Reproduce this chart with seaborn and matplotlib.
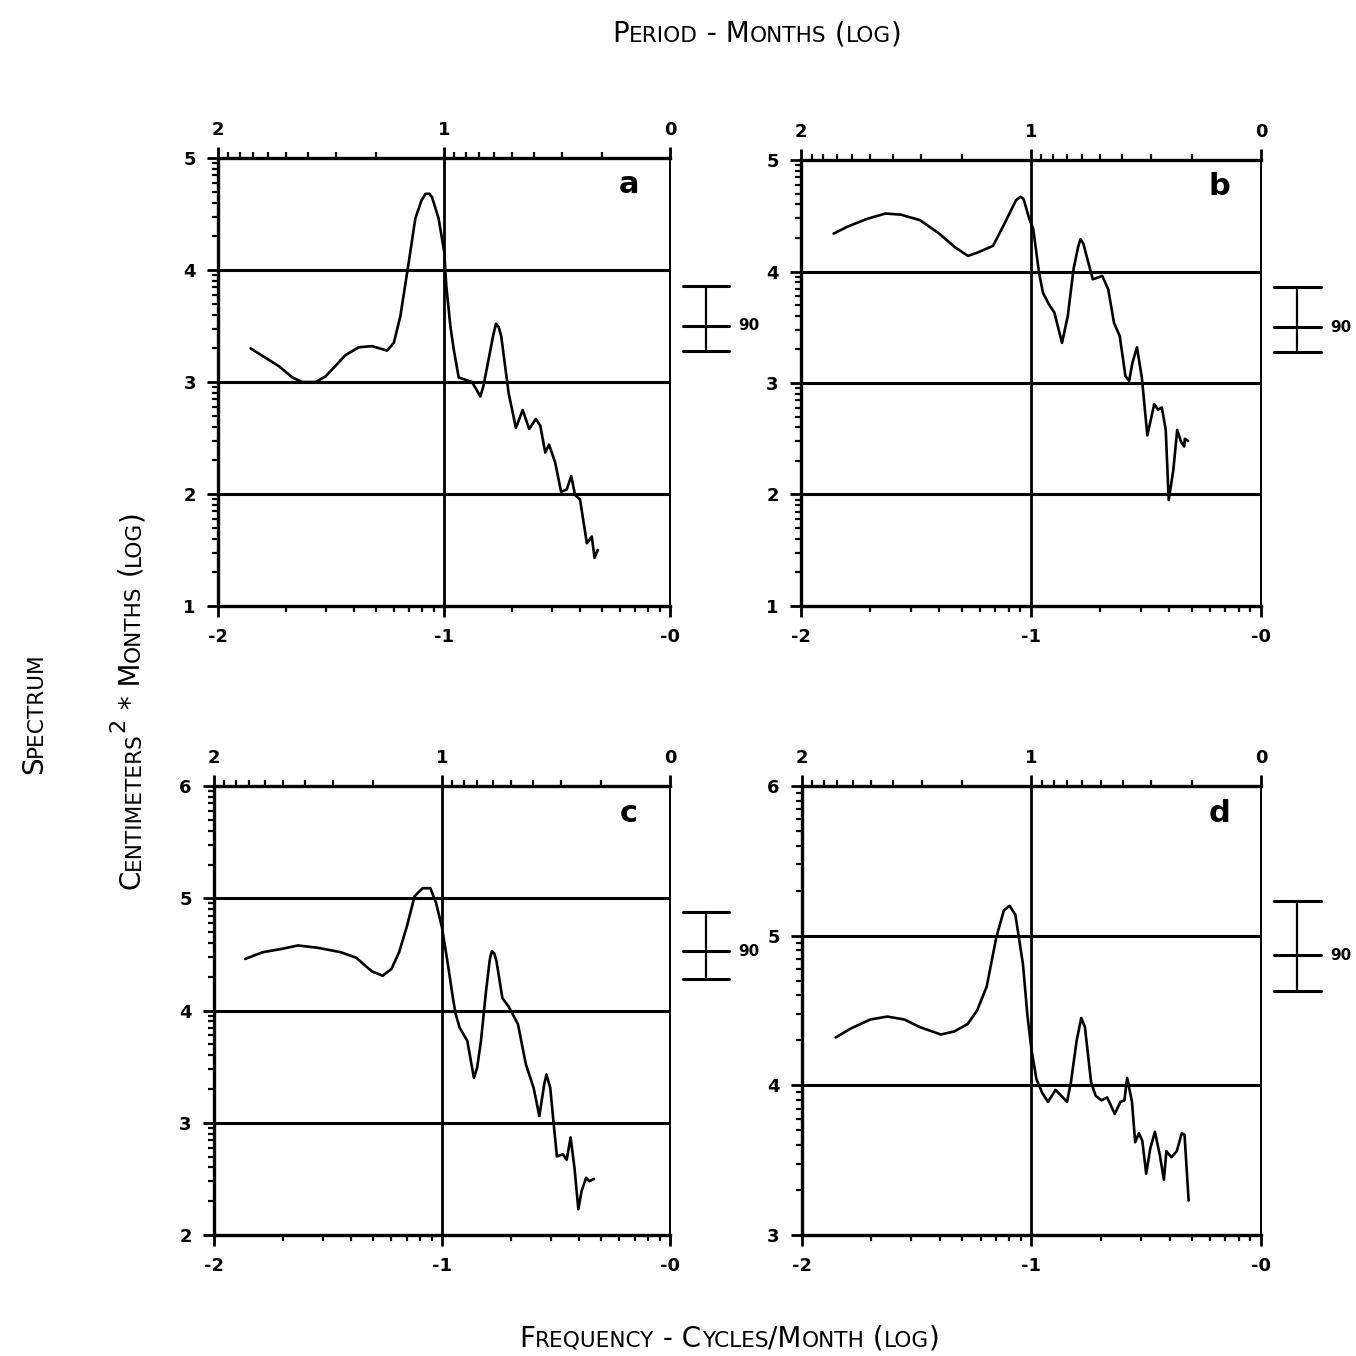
import re
import numpy as np
import pandas as pd
import matplotlib
matplotlib.use("Agg")
import matplotlib.pyplot as plt
from matplotlib.font_manager import FontProperties
import seaborn as sns

# spectra (log10 frequency, log10 spectrum)
freq_a = [-1.856, -1.730, -1.671, -1.627, -1.568, -1.524, -1.436, -1.377, -1.318, -1.252,
          -1.222, -1.193, -1.156, -1.127, -1.100, -1.082, -1.065, -1.053, -1.024, -0.999, -0.990, -0.972,
          -0.957, -0.935, -0.876, -0.839, -0.825, -0.803, -0.782, -0.770, -0.758, -0.747, -0.714, -0.682,
          -0.652, -0.623, -0.594, -0.574, -0.552, -0.535, -0.508, -0.482, -0.457, -0.437,
          -0.420, -0.398, -0.368, -0.346, -0.334, -0.320]
spec_a = [3.30, 3.14, 3.04, 3.00, 3.00, 3.05, 3.24, 3.31, 3.32, 3.28,
          3.35, 3.59, 4.07, 4.46, 4.62, 4.68, 4.68, 4.65, 4.46, 4.16, 3.86, 3.50,
          3.29, 3.04, 3.00, 2.87, 2.97, 3.20, 3.42, 3.52, 3.49, 3.41, 2.90, 2.59,
          2.75, 2.58, 2.67, 2.61, 2.37, 2.44, 2.28, 2.02, 2.04, 2.16,
          1.99, 1.95, 1.56, 1.62, 1.43, 1.50]

freq_b = [-1.858, -1.800, -1.716, -1.633, -1.566, -1.482, -1.399, -1.332, -1.274, -1.232,
          -1.165, -1.115, -1.065, -1.045, -1.032, -1.007, -0.990, -0.965, -0.948, -0.923, -0.898,
          -0.865, -0.840, -0.815, -0.795, -0.785, -0.772, -0.761, -0.731, -0.690, -0.664, -0.639, -0.614,
          -0.589, -0.573, -0.559, -0.539, -0.518, -0.506, -0.494, -0.464, -0.447, -0.431,
          -0.414, -0.401, -0.381, -0.364, -0.347, -0.334, -0.331, -0.317]
spec_b = [4.34, 4.40, 4.47, 4.52, 4.51, 4.46, 4.34, 4.22, 4.14, 4.17,
          4.23, 4.43, 4.64, 4.67, 4.65, 4.47, 4.38, 3.99, 3.81, 3.71, 3.63,
          3.36, 3.60, 4.02, 4.22, 4.29, 4.25, 4.16, 3.93, 3.96, 3.84, 3.54, 3.42,
          3.06, 3.02, 3.18, 3.32, 3.05, 2.79, 2.53, 2.81, 2.76, 2.78,
          2.58, 1.95, 2.22, 2.58, 2.47, 2.43, 2.50, 2.48]

freq_c = [-1.863, -1.786, -1.701, -1.632, -1.547, -1.444, -1.376, -1.308, -1.260, -1.222,
          -1.188, -1.154, -1.120, -1.085, -1.051, -1.026, -1.000, -0.974, -0.952, -0.940,
          -0.923, -0.889, -0.860, -0.846, -0.829, -0.807, -0.790, -0.781, -0.771, -0.761, -0.735, -0.709,
          -0.667, -0.632, -0.598, -0.573, -0.552, -0.542, -0.525, -0.513, -0.496, -0.470,
          -0.453, -0.436, -0.419, -0.402, -0.388, -0.368, -0.354, -0.333]
spec_c = [4.46, 4.52, 4.55, 4.58, 4.56, 4.52, 4.47, 4.35, 4.31, 4.37,
          4.52, 4.75, 5.02, 5.09, 5.09, 4.96, 4.74, 4.41, 4.11, 3.97,
          3.85, 3.73, 3.40, 3.49, 3.73, 4.17, 4.46, 4.53, 4.51, 4.44, 4.11, 4.04,
          3.88, 3.52, 3.31, 3.06, 3.34, 3.43, 3.31, 3.05, 2.70, 2.72,
          2.67, 2.87, 2.60, 2.23, 2.39, 2.51, 2.48, 2.50]

freq_d = [-1.853, -1.787, -1.703, -1.628, -1.553, -1.487, -1.395, -1.337, -1.278, -1.237,
          -1.195, -1.153, -1.120, -1.095, -1.070, -1.050, -1.037, -1.017, -1.000, -0.978,
          -0.953, -0.928, -0.895, -0.870, -0.845, -0.828, -0.803, -0.783, -0.767, -0.740,
          -0.720, -0.695, -0.670, -0.637, -0.612, -0.595, -0.583, -0.562, -0.548, -0.532,
          -0.517, -0.500, -0.482, -0.462, -0.440, -0.423, -0.412, -0.390, -0.367, -0.345,
          -0.333, -0.315]
spec_d = [4.32, 4.38, 4.44, 4.46, 4.44, 4.39, 4.34, 4.36, 4.41, 4.50,
          4.66, 4.99, 5.17, 5.20, 5.14, 4.94, 4.81, 4.46, 4.24, 4.04,
          3.95, 3.89, 3.97, 3.93, 3.89, 4.02, 4.30, 4.45, 4.39, 4.02,
          3.93, 3.90, 3.92, 3.81, 3.89, 3.90, 4.05, 3.89, 3.62, 3.68,
          3.63, 3.41, 3.58, 3.69, 3.53, 3.37, 3.56, 3.52, 3.56, 3.68,
          3.67, 3.23]

panel_names = ["a", "b", "c", "d"]
freqs = [freq_a, freq_b, freq_c, freq_d]
specs = [spec_a, spec_b, spec_c, spec_d]
y_ranges = [(1, 5), (1, 5), (2, 6), (3, 6)]

# confidence interval bars beside each panel
err_mid = [3.50, 3.50, 4.53, 4.87]
err_hi = [3.86, 3.86, 4.88, 5.23]
err_lo = [3.28, 3.28, 4.28, 4.63]
conf_label = "90"

freq_ticks = [-2, -1, 0]
freq_ticklabels = ["-2", "-1", "-0"]
period_ticks = [2, 1, 0]
period_ticklabels = ["2", "1", "0"]

sns.set_style("ticks")
plt.rcParams["font.family"] = ["DejaVu Sans"]
for key in ["axes.edgecolor", "xtick.color", "ytick.color", "text.color", "axes.labelcolor"]:
    plt.rcParams[key] = "black"


def small_caps(fig, s, x, y, size, rotation=0):
    # fake small caps: lowercase runs drawn as smaller capitals
    rend = fig.canvas.get_renderer()
    runs = re.findall(r"[a-z]+|²|[^a-z²]+", s)
    pieces = []
    for run in runs:
        if run == "²":
            txt, fs, rise = "2", size * 0.8, size * 0.55
        elif run.islower():
            txt, fs, rise = run.upper(), size * 0.78, 0
        else:
            txt, fs, rise = run, size, 0
        prop = FontProperties(family="DejaVu Sans", size=fs)
        w1, _, _ = rend.get_text_width_height_descent("|" + txt + "|", prop, ismath=False)
        w0, _, _ = rend.get_text_width_height_descent("||", prop, ismath=False)
        pieces.append((txt, fs, w1 - w0, rise))
    total = sum(p[2] for p in pieces)
    W, H = fig.bbox.width, fig.bbox.height
    px = fig.dpi / 72.0
    off = -total / 2
    for txt, fs, w, rise in pieces:
        if rotation == 0:
            pos = (x + off / W, y + rise * px / H)
        else:
            pos = (x - rise * px / W, y + off / H)
        fig.text(pos[0], pos[1], txt, fontsize=fs, rotation=rotation,
                 rotation_mode="anchor", ha="left", va="baseline")
        off += w


fig = plt.figure(figsize=(13.56, 13.56), dpi=100)
rects = [[0.1608, 0.5531, 0.3333, 0.3304],
         [0.5907, 0.5531, 0.3392, 0.3289],
         [0.1578, 0.0892, 0.3363, 0.3311],
         [0.5914, 0.0892, 0.3385, 0.3311]]

decade_minor = np.log10(np.arange(2, 10))

for i, rect in enumerate(rects):
    ax = fig.add_axes(rect)
    lo, hi = y_ranges[i]
    df = pd.DataFrame({"freq": freqs[i], "spec": specs[i]})
    sns.lineplot(data=df, x="freq", y="spec", ax=ax, color="black", lw=1.9,
                 sort=False, estimator=None)
    ax.set_xlim(-2, 0)
    ax.set_ylim(lo, hi)
    for yv in range(lo + 1, hi):
        ax.axhline(yv, color="black", lw=2.2)
    ax.axvline(-1, color="black", lw=2.0)

    ax.set_xlabel("")
    ax.set_ylabel("")
    ax.set_xticks(freq_ticks, freq_ticklabels)
    ax.set_xticks([n + d for n in (-2, -1) for d in decade_minor], minor=True)
    ax.set_yticks(list(range(lo, hi + 1)))
    ax.set_yticks([n + d for n in range(lo, hi) for d in decade_minor], minor=True)
    ax.tick_params(which="major", direction="out", length=8, width=2,
                   labelsize=13, pad=8)
    ax.tick_params(which="minor", direction="out", length=4, width=1.6)
    ax.tick_params(axis="y", which="both", right=False)
    for lab in ax.get_xticklabels() + ax.get_yticklabels():
        lab.set_fontweight("bold")

    for side in ["left", "top", "bottom"]:
        ax.spines[side].set_linewidth(2.4)
    ax.spines["right"].set_linewidth(1.4)

    sec = ax.secondary_xaxis("top", functions=(np.negative, np.negative))
    sec.set_xticks(period_ticks, period_ticklabels)
    sec.set_xticks([n + d for n in (0, 1) for d in decade_minor], minor=True)
    sec.tick_params(which="major", direction="out", length=8, width=2,
                    labelsize=13, pad=6)
    sec.tick_params(which="minor", direction="out", length=4, width=1.6)
    for lab in sec.get_xticklabels():
        lab.set_fontweight("bold")

    ax.text(0.91, 0.94, panel_names[i], transform=ax.transAxes, fontsize=22,
            fontweight="bold", ha="center", va="center")

    # confidence bar outside the right edge
    tr = ax.get_yaxis_transform()
    ax.plot([1.079, 1.079], [err_lo[i], err_hi[i]], color="black", lw=1.6,
            transform=tr, clip_on=False)
    for yv in (err_lo[i], err_mid[i], err_hi[i]):
        ax.plot([1.028, 1.13], [yv, yv], color="black", lw=2.2,
                transform=tr, clip_on=False)
    ax.text(1.15, err_mid[i], conf_label, transform=tr, fontsize=11,
            fontweight="bold", ha="left", va="center")

small_caps(fig, "Period - Months (log)", 0.558, 0.969, 20)
small_caps(fig, "Frequency - Cycles/Month (log)", 0.538, 0.007, 20)
small_caps(fig, "Spectrum", 0.031, 0.474, 20, rotation=90)
small_caps(fig, "Centimeters² * Months (log)", 0.103, 0.484, 20, rotation=90)

fig.savefig("out.png", dpi=100, facecolor="white")
